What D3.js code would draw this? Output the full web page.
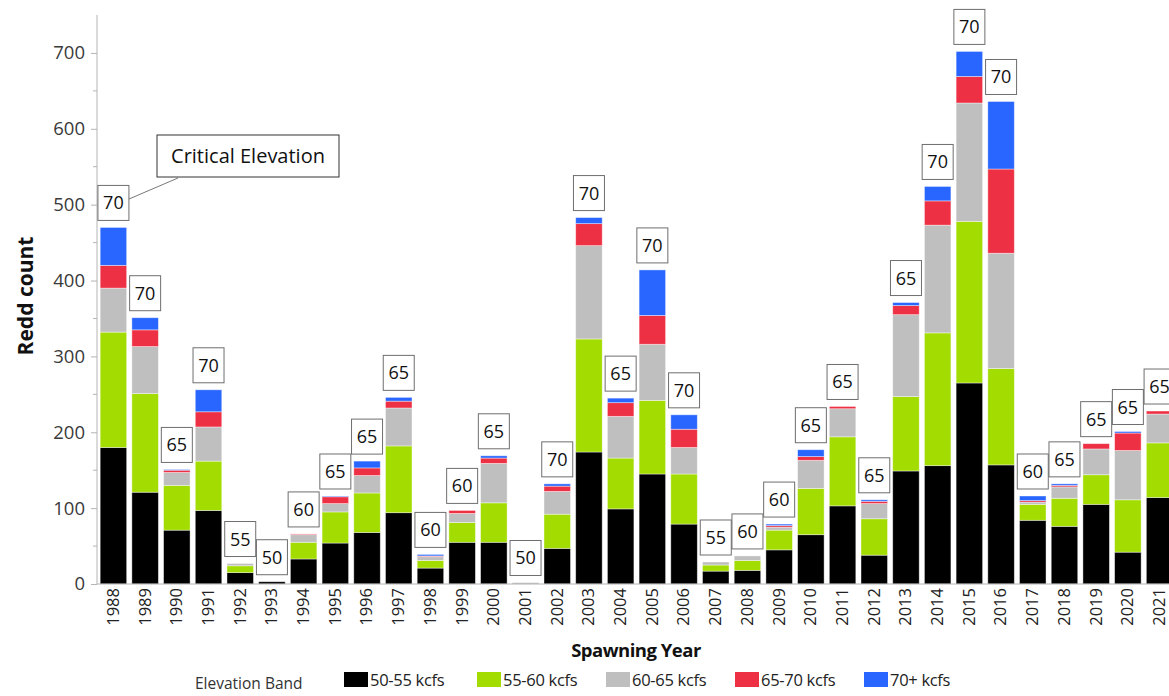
<!DOCTYPE html>
<html>
<head>
<meta charset="utf-8">
<script src="https://d3js.org/d3.v7.min.js"></script>
<style>
  body { margin: 0; background: white; }
  text { font-family: "Open Sans", "Noto Sans", sans-serif; }
</style>
</head>
<body>
<script>
  // data
  const years = ["1988","1989","1990","1991","1992","1993","1994","1995","1996","1997",
    "1998","1999","2000","2001","2002","2003","2004","2005","2006","2007",
    "2008","2009","2010","2011","2012","2013","2014","2015","2016","2017",
    "2018","2019","2020","2021"];

  const band50 = [180,121,71,97,15,3,33,54,68,94,21,55,55,1,47,174,99,145,79,17,18,45,65,103,38,149,156,265,157,84,76,105,42,114];
  const band55 = [152,130,59,65,9,0,22,41,52,88,10,26,52,0,45,149,67,97,66,8,13,26,61,91,48,98,175,213,127,21,37,39,69,72];
  const band60 = [58,62,17,45,3,0,10,11,23,50,5,12,52,1,30,123,55,74,35,4,6,4,37,37,20,108,142,156,152,3,15,34,65,38];
  const band65 = [30,22,3,20,0,0,1,9,10,9,1,4,7,0,7,29,18,38,24,0,0,2,5,3,3,12,32,35,111,2,2,7,23,4];
  const band70 = [50,16,1,29,0,0,0,1,9,5,2,0,3,0,3,8,6,60,19,0,0,2,9,0,2,4,19,33,89,6,2,0,2,0];

  const critical = [70,70,65,70,55,50,60,65,65,65,60,60,65,50,70,70,65,70,70,55,60,60,65,65,65,65,70,70,70,60,65,65,65,65];

  const bandNames = ["50-55 kcfs","55-60 kcfs","60-65 kcfs","65-70 kcfs","70+ kcfs"];
  const bandColors = ["#000000","#a2dc00","#bfbfbf","#ee3044","#2966ff"];
  const yTicks = [0,100,200,300,400,500,600,700];

  const width = 1169, height = 696;

  const svg = d3.select("body")
    .append("svg")
    .attr("width", width)
    .attr("height", height);

  // table for stacking
  const rows = years.map((y, i) => ({
    year: y,
    [bandNames[0]]: band50[i],
    [bandNames[1]]: band55[i],
    [bandNames[2]]: band60[i],
    [bandNames[3]]: band65[i],
    [bandNames[4]]: band70[i],
    crit: critical[i]
  }));

  const stacked = d3.stack().keys(bandNames)(rows);

  const x = d3.scaleBand()
    .domain(years)
    .range([97, 1176])
    .paddingInner(0.164)
    .paddingOuter(0.1);

  const y = d3.scaleLinear()
    .domain([0, 750])
    .range([584, 15]);

  // bars
  svg.append("g")
    .selectAll("g")
    .data(stacked)
    .join("g")
    .attr("fill", (d, i) => bandColors[i])
    .selectAll("rect")
    .data(d => d)
    .join("rect")
    .attr("x", d => x(d.data.year))
    .attr("y", d => y(d[1]))
    .attr("width", x.bandwidth())
    .attr("height", d => Math.max(0, y(d[0]) - y(d[1])))
    .attr("stroke", "#ffffff")
    .attr("stroke-opacity", 0.5)
    .attr("stroke-width", 0.8);

  // y axis
  const yAxis = svg.append("g")
    .attr("transform", "translate(97,0)")
    .call(d3.axisLeft(y).tickValues(yTicks).tickSize(6).tickPadding(6));
  yAxis.select(".domain").attr("stroke", "#b4b4b4").attr("d", "M0,15V584");
  yAxis.selectAll(".tick line").attr("stroke", "#b4b4b4");
  yAxis.selectAll(".tick text")
    .attr("font-size", 18.5)
    .attr("fill", "#3a3a3a")
    .style("font-family", "'Open Sans', sans-serif");

  // minor ticks
  svg.append("g")
    .selectAll("line")
    .data(d3.range(50, 750, 100))
    .join("line")
    .attr("x1", 93).attr("x2", 97)
    .attr("y1", d => y(d)).attr("y2", d => y(d))
    .attr("stroke", "#b4b4b4");

  // x axis
  const xAxis = svg.append("g")
    .attr("transform", "translate(0,584)")
    .call(d3.axisBottom(x).tickSize(0).tickPadding(0));
  xAxis.select(".domain").attr("stroke", "#b4b4b4").attr("d", "M97,0H1169");
  xAxis.selectAll(".tick text")
    .attr("font-size", 16.5)
    .attr("fill", "#222")
    .attr("text-anchor", "end")
    .attr("dominant-baseline", "middle")
    .attr("transform", "translate(1,4) rotate(-90)")
    .attr("dy", null)
    .attr("y", 0)
    .attr("x", 0);

  // critical elevation label boxes
  const lab = svg.append("g")
    .selectAll("g")
    .data(rows)
    .join("g")
    .attr("transform", d => {
      const total = bandNames.reduce((s, k) => s + d[k], 0);
      return `translate(${x(d.year) + x.bandwidth() / 2},${y(total) - 7})`;
    });
  lab.append("rect")
    .attr("x", -15.5).attr("y", -35)
    .attr("width", 31).attr("height", 35)
    .attr("fill", "white")
    .attr("stroke", "#6e6e6e")
    .attr("stroke-width", 1);
  lab.append("text")
    .attr("y", -11)
    .attr("text-anchor", "middle")
    .attr("font-size", 18)
    .attr("fill", "#111")
    .text(d => d.crit);

  // callout
  svg.append("line")
    .attr("x1", 178).attr("y1", 178)
    .attr("x2", 129).attr("y2", 199)
    .attr("stroke", "#555")
    .attr("stroke-width", 0.8);
  svg.append("rect")
    .attr("x", 157).attr("y", 135)
    .attr("width", 182).attr("height", 42)
    .attr("fill", "white")
    .attr("stroke", "#333")
    .attr("stroke-width", 1);
  svg.append("text")
    .attr("x", 248).attr("y", 163)
    .attr("text-anchor", "middle")
    .attr("font-size", 20)
    .attr("fill", "#111")
    .text("Critical Elevation");

  // axis titles
  svg.append("text")
    .attr("transform", "translate(33,296) rotate(-90)")
    .attr("text-anchor", "middle")
    .attr("font-size", 21)
    .attr("font-weight", 700)
    .attr("fill", "#111")
    .text("Redd count");

  svg.append("text")
    .attr("x", 636).attr("y", 657)
    .attr("text-anchor", "middle")
    .attr("font-size", 18.5)
    .attr("font-weight", 700)
    .attr("fill", "#111")
    .style("letter-spacing", "-0.5px")
    .text("Spawning Year");

  // legend
  svg.append("text")
    .attr("x", 195).attr("y", 689)
    .attr("font-size", 15.5)
    .attr("fill", "#333")
    .text("Elevation Band");

  const legX = [344, 477, 606, 735, 864];
  const leg = svg.append("g")
    .selectAll("g")
    .data(bandNames)
    .join("g")
    .attr("transform", (d, i) => `translate(${legX[i]},672)`);
  leg.append("rect")
    .attr("width", 24).attr("height", 15)
    .attr("fill", (d, i) => bandColors[i]);
  leg.append("text")
    .attr("x", 26).attr("y", 14)
    .attr("font-size", 16.5)
    .attr("fill", "#222")
    .style("letter-spacing", "-0.3px")
    .text(d => d);
</script>
</body>
</html>
